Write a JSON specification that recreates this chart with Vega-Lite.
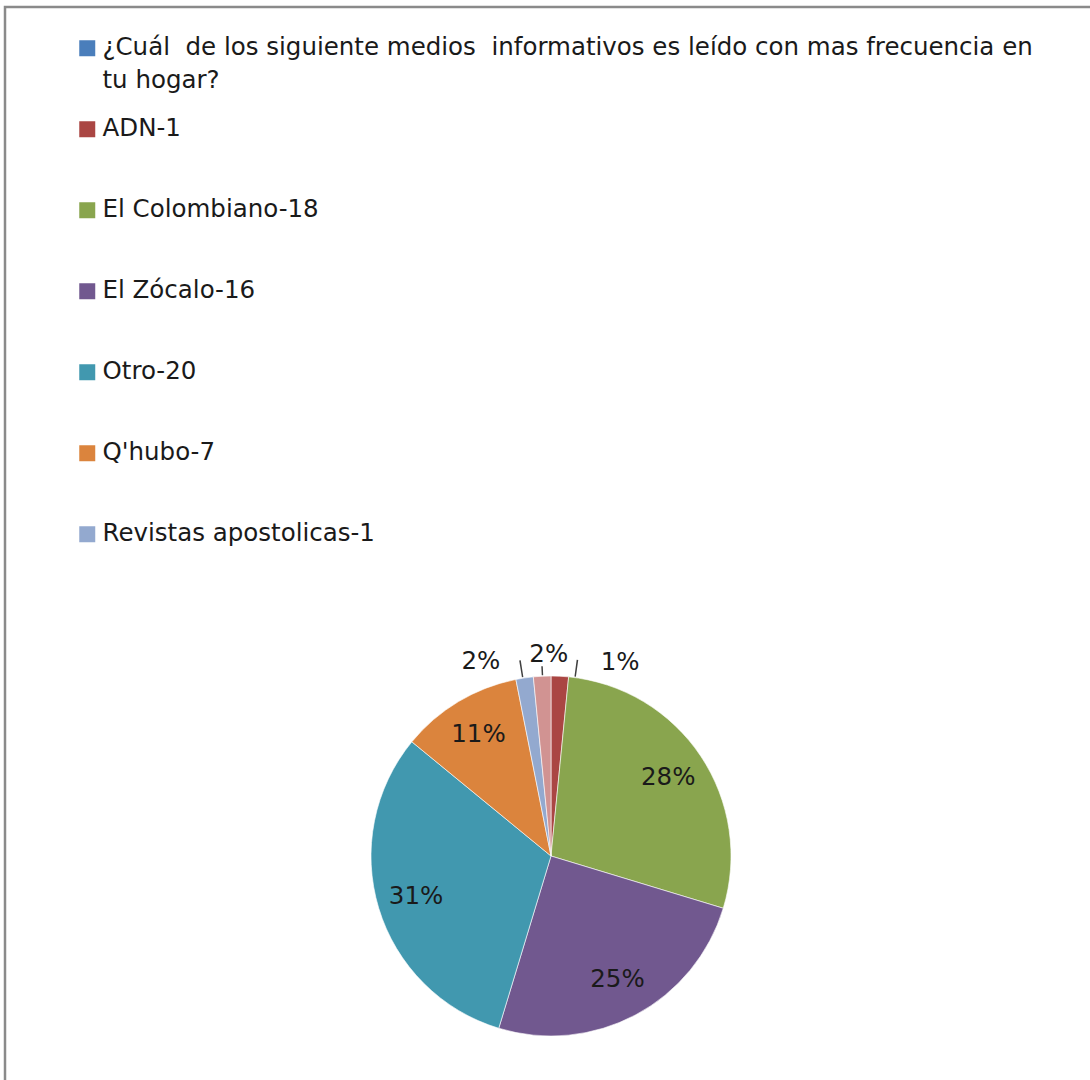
{
  "$schema": "https://vega.github.io/schema/vega-lite/v6.json",
  "width": 1092,
  "height": 1698,
  "autosize": {"type": "none"},
  "padding": {"left": 5, "top": 7, "right": 0, "bottom": 0},
  "background": "white",
  "view": {"stroke": "#8a8a8a", "strokeWidth": 2.5},
  "config": {
    "view": {"stroke": "#8a8a8a", "strokeWidth": 2.5},
    "font": "DejaVu Sans",
    "style": {"guide-label": {"lineHeight": 33}}
  },
  "data": {
    "values": [
      {"medio": "¿Cuál  de los siguiente medios  informativos es leído con mas frecuencia en tu hogar?", "valor": 0, "orden": 0, "pct": "0%"},
      {"medio": "ADN-1", "valor": 1, "orden": 1, "pct": "1%"},
      {"medio": "El Colombiano-18", "valor": 18, "orden": 2, "pct": "28%"},
      {"medio": "El Zócalo-16", "valor": 16, "orden": 3, "pct": "25%"},
      {"medio": "Otro-20", "valor": 20, "orden": 4, "pct": "31%"},
      {"medio": "Q'hubo-7", "valor": 7, "orden": 5, "pct": "11%"},
      {"medio": "Revistas apostolicas-1", "valor": 1, "orden": 6, "pct": "2%"},
      {"medio": "Ninguno-1", "valor": 1, "orden": 7, "pct": "2%"}
    ]
  },
  "layer": [
    {
      "mark": {"type": "arc", "outerRadius": 180, "stroke": "white", "strokeWidth": 0.6},
      "encoding": {
        "theta": {"field": "valor", "type": "quantitative", "stack": true},
        "order": {"field": "orden", "type": "quantitative"},
        "color": {
          "field": "medio",
          "type": "nominal",
          "scale": {
            "domain": ["¿Cuál  de los siguiente medios  informativos es leído con mas frecuencia en tu hogar?", "ADN-1", "El Colombiano-18", "El Zócalo-16", "Otro-20", "Q'hubo-7", "Revistas apostolicas-1", "Ninguno-1"],
            "range": ["#4A7EBB", "#AA4643", "#89A54E", "#71588F", "#4198AF", "#DB843D", "#93A9CF", "#D19392"]
          },
          "legend": {
            "orient": "none",
            "legendX": 70,
            "legendY": 29,
            "direction": "vertical",
            "title": null,
            "padding": 0,
            "values": ["¿Cuál  de los siguiente medios  informativos es leído con mas frecuencia en tu hogar?", "ADN-1", "El Colombiano-18", "El Zócalo-16", "Otro-20", "Q'hubo-7", "Revistas apostolicas-1"],
            "symbolType": "square",
            "symbolSize": 256,
            "symbolStrokeWidth": 0,
            "symbolOpacity": 1,
            "labelFont": "DejaVu Sans",
            "labelFontSize": 24.5,
            "labelColor": "#1a1a1a",
            "labelLimit": 1100,
            "labelOffset": 3,
            "rowPadding": 23,
            "labelExpr": "indexof(datum.label, 'hogar') >= 0 ? ['¿Cuál \u00a0de los siguiente medios \u00a0informativos es leído con mas frecuencia en', 'tu hogar?'] : [datum.label, ' ']",
            "encode": {
              "labels": {
                "update": {
                  "dy": {"value": 16.5},
                  "lineHeight": {"value": 33}
                }
              }
            }
          }
        }
      }
    },
    {
      "mark": {"type": "text", "radius": 141, "fontSize": 24.5, "font": "DejaVu Sans", "color": "#1a1a1a"},
      "encoding": {
        "theta": {"field": "valor", "type": "quantitative", "stack": true},
        "order": {"field": "orden", "type": "quantitative"},
        "text": {"condition": {"test": "datum.valor >= 3", "field": "pct", "type": "nominal"}, "value": ""}
      }
    },
    {
      "mark": {"type": "text", "radius": 205, "thetaOffset": 0.295, "fontSize": 24.5, "font": "DejaVu Sans", "color": "#1a1a1a"},
      "encoding": {
        "theta": {"field": "valor", "type": "quantitative", "stack": true},
        "order": {"field": "orden", "type": "quantitative"},
        "text": {"condition": {"test": "datum.orden == 1", "field": "pct", "type": "nominal"}, "value": ""}
      }
    },
    {
      "mark": {"type": "text", "radius": 201, "thetaOffset": 0.038, "fontSize": 24.5, "font": "DejaVu Sans", "color": "#1a1a1a"},
      "encoding": {
        "theta": {"field": "valor", "type": "quantitative", "stack": true},
        "order": {"field": "orden", "type": "quantitative"},
        "text": {"condition": {"test": "datum.orden == 7", "field": "pct", "type": "nominal"}, "value": ""}
      }
    },
    {
      "mark": {"type": "text", "radius": 206, "thetaOffset": -0.2, "fontSize": 24.5, "font": "DejaVu Sans", "color": "#1a1a1a"},
      "encoding": {
        "theta": {"field": "valor", "type": "quantitative", "stack": true},
        "order": {"field": "orden", "type": "quantitative"},
        "text": {"condition": {"test": "datum.orden == 6", "field": "pct", "type": "nominal"}, "value": ""}
      }
    },
    {
      "transform": [
        {"stack": "valor", "groupby": [], "sort": [{"field": "orden", "order": "ascending"}], "as": ["v0", "v1"]},
        {"filter": "datum.orden == 1"}
      ],
      "mark": {"type": "arc", "innerRadius": 181, "outerRadius": 198, "thetaOffset": 0.13, "theta2Offset": 0.138, "color": "#404040"},
      "encoding": {
        "theta": {"field": "v0", "type": "quantitative", "stack": null},
        "theta2": {"field": "v0"}
      }
    },
    {
      "transform": [
        {"stack": "valor", "groupby": [], "sort": [{"field": "orden", "order": "ascending"}], "as": ["v0", "v1"]},
        {"filter": "datum.orden == 6"}
      ],
      "mark": {"type": "arc", "innerRadius": 181, "outerRadius": 198, "thetaOffset": 0.035, "theta2Offset": 0.043, "color": "#404040"},
      "encoding": {
        "theta": {"field": "v0", "type": "quantitative", "stack": null},
        "theta2": {"field": "v0"}
      }
    },
    {
      "transform": [
        {"stack": "valor", "groupby": [], "sort": [{"field": "orden", "order": "ascending"}], "as": ["v0", "v1"]},
        {"filter": "datum.orden == 7"}
      ],
      "mark": {"type": "arc", "innerRadius": 181, "outerRadius": 190, "thetaOffset": 0.047, "theta2Offset": 0.055, "color": "#404040"},
      "encoding": {
        "theta": {"field": "v0", "type": "quantitative", "stack": null},
        "theta2": {"field": "v0"}
      }
    }
  ]
}
